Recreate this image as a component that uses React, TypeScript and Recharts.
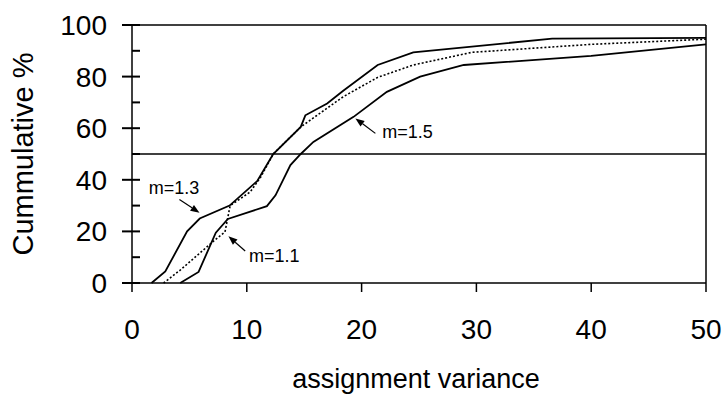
import React from "react";
import {
  LineChart, Line, XAxis, YAxis, ReferenceLine, ReferenceDot,
} from "recharts";

// m=1.3 (left solid curve)
const m13X = [1.7, 2.9, 4.8, 5.9, 8.5, 10.9, 12.3, 14.7, 15.1, 17.0, 18.4, 21.4, 24.5, 36.6, 50];
const m13Y = [0, 4.5, 20, 25, 30, 39.5, 50, 60.5, 65, 69.6, 74.5, 84.5, 89.4, 94.7, 95];

// m=1.1 (dotted curve)
const m11X = [2.75, 4.2, 7.2, 8.1, 8.55, 10.3, 11.2, 12.3, 14.7, 18.4, 21.4, 24.5, 29.6, 40, 50];
const m11Y = [0, 5, 16.6, 19.8, 30, 35.3, 41, 50, 60.5, 72.2, 79.7, 84.5, 89.4, 92.5, 94.5];

// m=1.5 (right solid curve)
const m15X = [4.2, 5.8, 7.3, 8.35, 11.75, 12.5, 13.8, 14.7, 15.8, 19.3, 22.2, 25.1, 28.9, 40, 50];
const m15Y = [0, 4.3, 19.5, 24.8, 29.8, 34, 45.7, 50, 54.7, 64.4, 74.1, 80, 84.5, 88, 92.5];

const xTicks = [0, 10, 20, 30, 40, 50];
const yTicks = [0, 10, 20, 30, 40, 50, 60, 70, 80, 90, 100];

// annotations: text position and arrow (from -> to, head at "to")
const noteText = ["m=1.3", "m=1.1", "m=1.5"];
const noteX = [3.66, 12.4, 24.0];
const noteY = [37, 10.4, 58.6];
const arrowFromX = [4.13, 9.86, 21.2];
const arrowFromY = [32.4, 12.4, 58];
const arrowToX = [5.88, 8.4, 19.46];
const arrowToY = [27.2, 18.1, 63.8];

const toPoints = (xs: number[], ys: number[]) => xs.map((x, i) => ({ x, y: ys[i] }));

const FONT = "'Liberation Sans', Arial, sans-serif";

// major ticks cross the axis, minor ticks point inward
const renderYTick = (props: any) => {
  const x = Number(props.x);
  const y = Number(props.y);
  const v = Number(props.payload.value);
  const major = v % 20 === 0;
  return (
    <g key={`yt${v}`}>
      <path d={`M${major ? x + 15 : x + 25},${y}L${x + 33},${y}`} stroke="#000" strokeWidth={2} fill="none" />
      {major && (
        <text x={x} y={y + 10} textAnchor="end" fontSize={28} fontFamily={FONT} fill="#000">
          {v}
        </text>
      )}
    </g>
  );
};

const Arrow = (p: any) => {
  const { x1, y1, x2, y2 } = p;
  const a = Math.atan2(y2 - y1, x2 - x1);
  const len = 9;
  const w = 3.5;
  const bx = x2 - len * Math.cos(a);
  const by = y2 - len * Math.sin(a);
  const px = -Math.sin(a) * w;
  const py = Math.cos(a) * w;
  return (
    <g>
      <line x1={x1} y1={y1} x2={bx} y2={by} stroke="#000" strokeWidth={1.2} />
      <polygon points={`${x2},${y2} ${bx + px},${by + py} ${bx - px},${by - py}`} fill="#000" />
    </g>
  );
};

const YTitle = ({ viewBox }: any) => {
  const cx = viewBox.x - 9;
  const cy = viewBox.y + viewBox.height / 2;
  return (
    <text x={cx} y={cy} transform={`rotate(-90 ${cx} ${cy})`} textAnchor="middle" dominantBaseline="central" fontSize={29} fontFamily={FONT} fill="#000">
      Cummulative %
    </text>
  );
};

const XTitle = ({ viewBox }: any) => (
  <text x={viewBox.x + viewBox.width / 2 - 3} y={viewBox.y + 105} textAnchor="middle" fontSize={27} fontFamily={FONT} fill="#000">
    assignment variance
  </text>
);

export default function App() {
  return (
    <div style={{ position: "absolute", left: 0, top: 0, background: "#fff" }}>
      <LineChart width={724} height={398} margin={{ top: 25, right: 18, bottom: 55, left: 32 }}>
        <ReferenceLine y={100} stroke="#000" strokeWidth={1.5} />
        <ReferenceLine x={50} stroke="#000" strokeWidth={1.5} />
        <ReferenceLine y={50} stroke="#000" strokeWidth={1.5} />
        <Line data={toPoints(m13X, m13Y)} dataKey="y" stroke="#000" strokeWidth={1.8} dot={false} isAnimationActive={false} />
        <Line data={toPoints(m15X, m15Y)} dataKey="y" stroke="#000" strokeWidth={1.8} dot={false} isAnimationActive={false} />
        <Line data={toPoints(m11X, m11Y)} dataKey="y" stroke="#000" strokeWidth={1.6} strokeDasharray="2 2" dot={false} isAnimationActive={false} />
        {noteText.map((t, i) => (
          <ReferenceLine
            key={`a${t}`}
            segment={[{ x: arrowFromX[i], y: arrowFromY[i] }, { x: arrowToX[i], y: arrowToY[i] }]}
            shape={<Arrow />}
          />
        ))}
        {noteText.map((t, i) => (
          <ReferenceDot
            key={`n${t}`}
            x={noteX[i]}
            y={noteY[i]}
            r={0}
            shape={(p: any) => (
              <text x={p.cx} y={p.cy} textAnchor="middle" dominantBaseline="central" fontSize={18} fontFamily={FONT} fill="#000">
                {t}
              </text>
            )}
          />
        ))}
        <XAxis
          type="number"
          dataKey="x"
          domain={[0, 50]}
          ticks={xTicks}
          height={60}
          tickSize={9}
          tickMargin={27}
          tick={{ fontSize: 28, fill: "#000", fontFamily: FONT }}
          tickLine={{ stroke: "#000", strokeWidth: 1.5 }}
          axisLine={{ stroke: "#000", strokeWidth: 1.5 }}
          label={{ content: XTitle }}
        />
        <YAxis
          type="number"
          domain={[0, 100]}
          ticks={yTicks}
          width={100}
          tickSize={10}
          tickMargin={15}
          tickLine={false}
          tick={renderYTick}
          axisLine={{ stroke: "#000", strokeWidth: 1.5 }}
          label={{ content: YTitle }}
        />
      </LineChart>
    </div>
  );
}
